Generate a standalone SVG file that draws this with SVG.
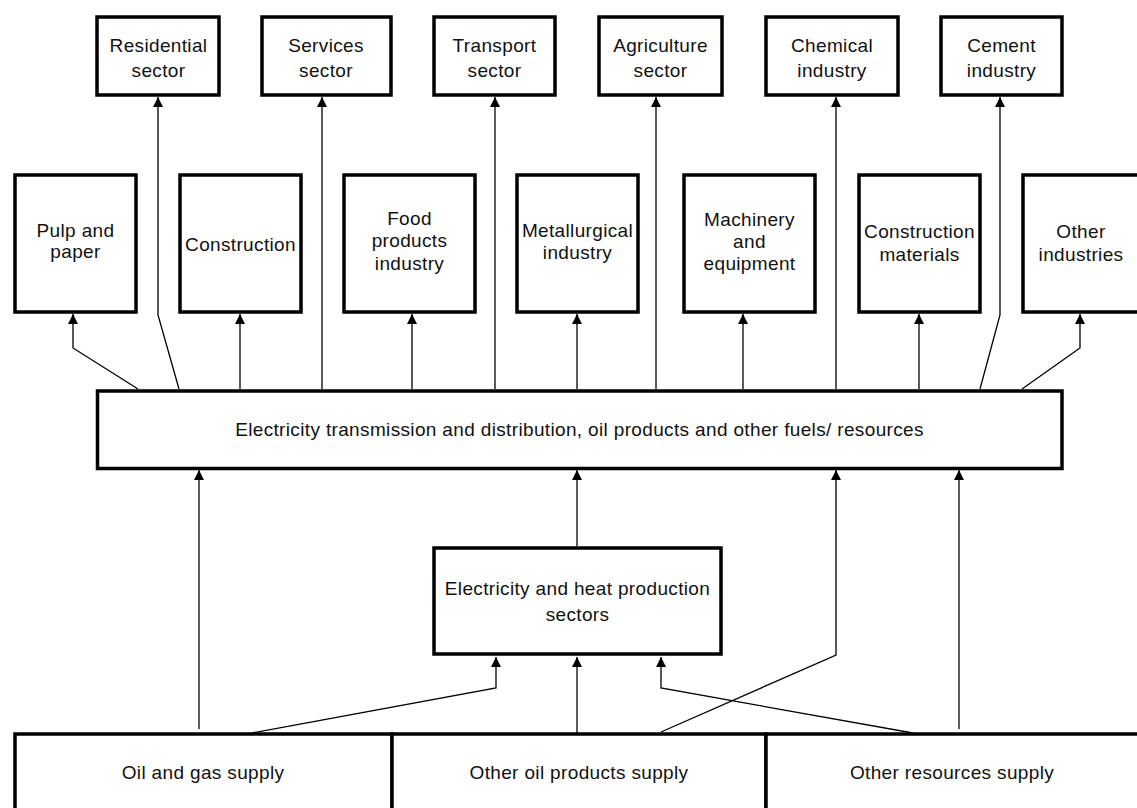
<svg xmlns="http://www.w3.org/2000/svg" width="1137" height="808" viewBox="0 0 1137 808">
  <style>
    .box { fill: #ffffff; stroke: #000000; stroke-width: 3.5; }
    .lbl { font-family: "Liberation Sans", Arial, sans-serif; font-size: 19px; letter-spacing: 0.35px; fill: #111111; text-anchor: middle; }
    .wire { fill: none; stroke: #000000; stroke-width: 1.3; }
    .arr { marker-end: url(#head); }
  </style>
  <defs>
    <marker id="head" markerUnits="userSpaceOnUse" markerWidth="11" markerHeight="11" refX="10" refY="5.5" orient="auto">
      <path d="M0,0.5 L10,5.5 L0,10.5 Z" fill="#000000"/>
    </marker>
  </defs>
  <rect width="1137" height="808" fill="#ffffff"/>

  <!-- connectors -->
  <g id="connectors">
    <!-- bus to end-use sectors (top row) -->
    <path class="wire arr" d="M179,389 L158,315 L158,97"/>
    <path class="wire arr" d="M322,389 V97"/>
    <path class="wire arr" d="M495,389 V97"/>
    <path class="wire arr" d="M656,389 V97"/>
    <path class="wire arr" d="M836,389 V97"/>
    <path class="wire arr" d="M980,389 L1000,315 V97"/>
    <!-- bus to industries (second row) -->
    <path class="wire arr" d="M138,389 L73,348 V314"/>
    <path class="wire arr" d="M240,389 V314"/>
    <path class="wire arr" d="M412,389 V314"/>
    <path class="wire arr" d="M577,389 V314"/>
    <path class="wire arr" d="M743,389 V314"/>
    <path class="wire arr" d="M919,389 V314"/>
    <path class="wire arr" d="M1022,389 L1080,348 V314"/>
    <!-- supplies and generation into the bus -->
    <path class="wire arr" d="M199,729 V470"/>
    <path class="wire arr" d="M577,546 V470"/>
    <path class="wire arr" d="M661,732 L836,655 V470"/>
    <path class="wire arr" d="M959,729 V470"/>
    <!-- supplies into electricity and heat production -->
    <path class="wire arr" d="M252,733 L496,688 V657"/>
    <path class="wire arr" d="M577,733 V657"/>
    <path class="wire arr" d="M913,733 L661,688 V657"/>
  </g>

  <!-- top row: end-use sectors -->
  <g id="residential">
    <rect class="box" x="97" y="17" width="122" height="78"/>
    <text class="lbl" x="158.5" y="52">Residential</text>
    <text class="lbl" x="158.5" y="77">sector</text>
  </g>
  <g id="services">
    <rect class="box" x="262" y="17" width="129" height="78"/>
    <text class="lbl" x="326" y="52">Services</text>
    <text class="lbl" x="326" y="77">sector</text>
  </g>
  <g id="transport">
    <rect class="box" x="434" y="17" width="121" height="78"/>
    <text class="lbl" x="494.5" y="52">Transport</text>
    <text class="lbl" x="494.5" y="77">sector</text>
  </g>
  <g id="agriculture">
    <rect class="box" x="599" y="17" width="123" height="78"/>
    <text class="lbl" x="660.5" y="52">Agriculture</text>
    <text class="lbl" x="660.5" y="77">sector</text>
  </g>
  <g id="chemical">
    <rect class="box" x="766" y="17" width="132" height="78"/>
    <text class="lbl" x="832" y="52">Chemical</text>
    <text class="lbl" x="832" y="77">industry</text>
  </g>
  <g id="cement">
    <rect class="box" x="941" y="17" width="121" height="78"/>
    <text class="lbl" x="1001.5" y="52">Cement</text>
    <text class="lbl" x="1001.5" y="77">industry</text>
  </g>

  <!-- second row: industries -->
  <g id="pulp-paper">
    <rect class="box" x="15" y="175" width="121" height="137"/>
    <text class="lbl" x="75.5" y="237">Pulp and</text>
    <text class="lbl" x="75.5" y="258">paper</text>
  </g>
  <g id="construction">
    <rect class="box" x="180" y="175" width="121" height="137"/>
    <text class="lbl" x="240.5" y="251">Construction</text>
  </g>
  <g id="food">
    <rect class="box" x="344" y="175" width="131" height="137"/>
    <text class="lbl" x="409.5" y="225">Food</text>
    <text class="lbl" x="409.5" y="247">products</text>
    <text class="lbl" x="409.5" y="270">industry</text>
  </g>
  <g id="metallurgical">
    <rect class="box" x="517" y="175" width="121" height="137"/>
    <text class="lbl" x="577.5" y="237">Metallurgical</text>
    <text class="lbl" x="577.5" y="259">industry</text>
  </g>
  <g id="machinery">
    <rect class="box" x="684" y="175" width="131" height="137"/>
    <text class="lbl" x="749.5" y="226">Machinery</text>
    <text class="lbl" x="749.5" y="248">and</text>
    <text class="lbl" x="749.5" y="270">equipment</text>
  </g>
  <g id="construction-materials">
    <rect class="box" x="859" y="175" width="121" height="137"/>
    <text class="lbl" x="919.5" y="238">Construction</text>
    <text class="lbl" x="919.5" y="261">materials</text>
  </g>
  <g id="other-industries">
    <rect class="box" x="1023" y="175" width="120" height="137"/>
    <text class="lbl" x="1081" y="238">Other</text>
    <text class="lbl" x="1081" y="261">industries</text>
  </g>

  <!-- distribution bus -->
  <g id="distribution">
    <rect class="box" x="97.5" y="391" width="964.5" height="77.5"/>
    <text class="lbl" x="579.5" y="436">Electricity transmission and distribution, oil products and other fuels/ resources</text>
  </g>

  <!-- generation -->
  <g id="electricity-heat">
    <rect class="box" x="434" y="548" width="287" height="106"/>
    <text class="lbl" x="577.5" y="595">Electricity and heat production</text>
    <text class="lbl" x="577.5" y="621">sectors</text>
  </g>

  <!-- supply row -->
  <g id="oil-gas-supply">
    <rect class="box" x="15" y="734" width="377" height="100"/>
    <text class="lbl" x="203" y="779">Oil and gas supply</text>
  </g>
  <g id="oil-products-supply">
    <rect class="box" x="392" y="734" width="374" height="100"/>
    <text class="lbl" x="579" y="779">Other oil products supply</text>
  </g>
  <g id="other-resources-supply">
    <rect class="box" x="766" y="734" width="380" height="100"/>
    <text class="lbl" x="952" y="779">Other resources supply</text>
  </g>
</svg>
